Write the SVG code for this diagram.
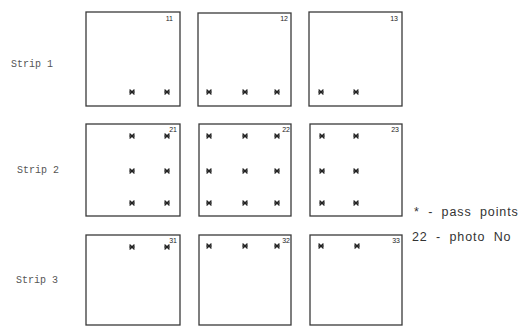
<svg xmlns="http://www.w3.org/2000/svg" width="532" height="326" viewBox="0 0 532 326">
<style>
.box{fill:#fff;stroke:#3a3a3a;stroke-width:1.3}
.num{font-family:"Liberation Sans",sans-serif;font-size:7px;fill:#222;text-anchor:end}
.strip{font-family:"Liberation Mono",monospace;font-size:10px;fill:#555}
.leg{font-family:"Liberation Sans",sans-serif;font-size:12.5px;fill:#333;letter-spacing:0.9px}
</style>
<defs>
<g id="pp" stroke="#222" stroke-width="1.4" stroke-linecap="round">
<line x1="-2" y1="-2" x2="2" y2="2"/>
<line x1="-2" y1="2" x2="2" y2="-2"/>
<line x1="-2.3" y1="0" x2="2.3" y2="0"/>
</g>
</defs>
<rect width="532" height="326" fill="#fff"/>
<text class="strip" x="11" y="67">Strip 1</text>
<text class="strip" x="17" y="173">Strip 2</text>
<text class="strip" x="16" y="283">Strip 3</text>

<g id="photo11"><rect class="box" x="86" y="12" width="94" height="94"/><text class="num" x="173" y="21">11</text>
<use href="#pp" x="132" y="92"/><use href="#pp" x="167" y="92"/></g>
<g id="photo12"><rect class="box" x="198" y="13" width="93" height="93"/><text class="num" x="288" y="21">12</text>
<use href="#pp" x="209" y="92"/><use href="#pp" x="245" y="92"/><use href="#pp" x="277" y="92"/></g>
<g id="photo13"><rect class="box" x="309" y="12" width="93" height="94"/><text class="num" x="398" y="21">13</text>
<use href="#pp" x="321" y="92"/><use href="#pp" x="356" y="92"/></g>

<g id="photo21"><rect class="box" x="86" y="124" width="94" height="92"/><text class="num" x="177" y="132">21</text>
<use href="#pp" x="132" y="136"/><use href="#pp" x="167" y="136"/>
<use href="#pp" x="132" y="171"/><use href="#pp" x="167" y="171"/>
<use href="#pp" x="132" y="203"/><use href="#pp" x="167" y="203"/></g>
<g id="photo22"><rect class="box" x="199" y="124" width="92" height="92"/><text class="num" x="290" y="132">22</text>
<use href="#pp" x="209" y="136"/><use href="#pp" x="245" y="136"/><use href="#pp" x="277" y="136"/>
<use href="#pp" x="209" y="171"/><use href="#pp" x="245" y="171"/><use href="#pp" x="277" y="171"/>
<use href="#pp" x="209" y="203"/><use href="#pp" x="245" y="203"/><use href="#pp" x="277" y="203"/></g>
<g id="photo23"><rect class="box" x="310" y="124" width="92" height="92"/><text class="num" x="399" y="132">23</text>
<use href="#pp" x="322" y="136"/><use href="#pp" x="356" y="136"/>
<use href="#pp" x="322" y="171"/><use href="#pp" x="356" y="171"/>
<use href="#pp" x="322" y="203"/><use href="#pp" x="356" y="203"/></g>

<g id="photo31"><rect class="box" x="86" y="235" width="94" height="90"/><text class="num" x="177" y="243">31</text>
<use href="#pp" x="132" y="247"/><use href="#pp" x="167" y="247"/></g>
<g id="photo32"><rect class="box" x="199" y="235" width="92" height="90"/><text class="num" x="290" y="243">32</text>
<use href="#pp" x="209" y="246"/><use href="#pp" x="245" y="246"/><use href="#pp" x="277" y="246"/></g>
<g id="photo33"><rect class="box" x="310" y="235" width="92" height="90"/><text class="num" x="400" y="243">33</text>
<use href="#pp" x="321" y="246"/><use href="#pp" x="357" y="246"/></g>

<g id="legend">
<text class="leg" x="414" y="216" word-spacing="4">* - pass points</text>
<text class="leg" x="412" y="241" word-spacing="4">22 - photo No</text>
</g>
<g id="connectors"/>
</svg>
